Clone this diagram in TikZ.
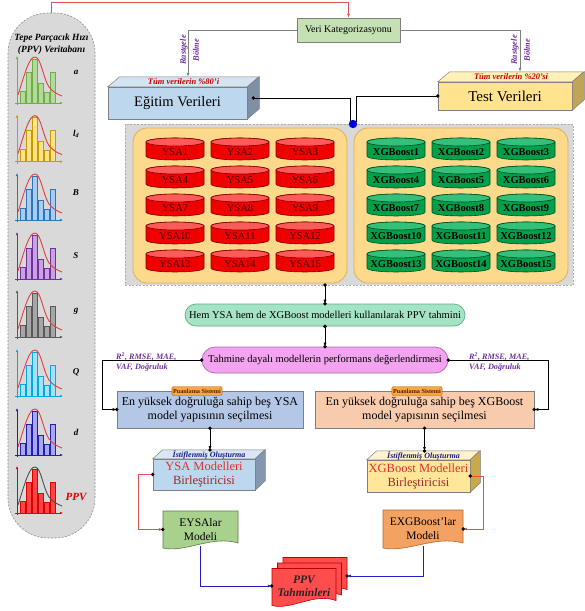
\documentclass[tikz,border=0pt]{standalone}
\usepackage{fontspec}
\setmainfont{Liberation Serif}
\usetikzlibrary{arrows.meta,calc}

\definecolor{panelgray}{HTML}{D9D9D9}
\definecolor{paneledge}{HTML}{8C8C8C}
\definecolor{edgegray}{HTML}{7F7F7F}
\definecolor{conred}{HTML}{E05050}
\definecolor{conblue}{HTML}{2020C0}
\definecolor{purp}{HTML}{7030A0}
\definecolor{tumred}{HTML}{D00000}
\definecolor{egfront}{HTML}{BDD7EE}
\definecolor{egtop}{HTML}{D5E4F3}
\definecolor{egside}{HTML}{7F8FA6}
\definecolor{tsfront}{HTML}{FFE38F}
\definecolor{tstop}{HTML}{FFF0B8}
\definecolor{tsside}{HTML}{BFA555}
\definecolor{verifill}{HTML}{C5E0B4}
\definecolor{contfill}{HTML}{FDD98C}
\definecolor{contedge}{HTML}{D9B15A}
\definecolor{ysabody}{HTML}{F00000}
\definecolor{ysatop}{HTML}{FF5A5A}
\definecolor{ysaedge}{HTML}{800000}
\definecolor{ysatext}{HTML}{4A0000}
\definecolor{xgbbody}{HTML}{00A04A}
\definecolor{xgbtop}{HTML}{33C07A}
\definecolor{xgbedge}{HTML}{004D24}
\definecolor{hemfill}{HTML}{A4E4C4}
\definecolor{hemedge}{HTML}{5FAE86}
\definecolor{pinkfill}{HTML}{F3A3F0}
\definecolor{pinkedge}{HTML}{B266B2}
\definecolor{ysasel}{HTML}{B4C7E7}
\definecolor{xgbsel}{HTML}{F8CBAD}
\definecolor{tagfill}{HTML}{F4A742}
\definecolor{tagedge}{HTML}{C06000}
\definecolor{tagtext}{HTML}{5A2000}
\definecolor{cbblue}{HTML}{BDD7EE}
\definecolor{cbbluetop}{HTML}{D9E6F4}
\definecolor{cbblueside}{HTML}{8496B0}
\definecolor{cbyel}{HTML}{FFE699}
\definecolor{cbyeltop}{HTML}{FFF2CC}
\definecolor{cbyelside}{HTML}{C9A94A}
\definecolor{stackblue}{HTML}{1A1A8C}
\definecolor{modred}{HTML}{E03030}
\definecolor{modredd}{HTML}{A02828}
\definecolor{eysafill}{HTML}{A9D18E}
\definecolor{eysaedge}{HTML}{5E7F46}
\definecolor{exgbfill}{HTML}{F4A261}
\definecolor{exgbedge}{HTML}{B8692A}
\definecolor{ppvfill}{HTML}{FF4D4D}
\definecolor{ppvedge}{HTML}{C00000}
\definecolor{hAf}{HTML}{B5D99C}\definecolor{hAe}{HTML}{70AD47}
\definecolor{hLf}{HTML}{FFE28A}\definecolor{hLe}{HTML}{C99A00}
\definecolor{hBf}{HTML}{A9CBEE}\definecolor{hBe}{HTML}{2E75B6}
\definecolor{hSf}{HTML}{C9A3E0}\definecolor{hSe}{HTML}{7030A0}
\definecolor{hGf}{HTML}{A6A6A6}\definecolor{hGe}{HTML}{595959}
\definecolor{hQf}{HTML}{A3E2F8}\definecolor{hQe}{HTML}{00A8E8}
\definecolor{hDf}{HTML}{A8A8F0}\definecolor{hDe}{HTML}{2020B0}
\definecolor{hPf}{HTML}{FF4545}\definecolor{hPe}{HTML}{E00000}
\definecolor{hcurve}{HTML}{E04040}
\definecolor{hcurvep}{HTML}{505050}

\newcommand\fsz[2]{\fontsize{#1}{#2}\selectfont}

% histogram: #1 baseline y, #2 fill, #3 edge/axis, #4 curve colour
\newcommand\myhist[4]{%
\begin{scope}[shift={(0,#1)}]
 \foreach \i/\h in {0/12,1/31,2/44,3/20,4/11,5/31}{
   \filldraw[fill=#2, draw=#3, line width=0.5pt] ({20+6*\i},0) rectangle ({25.5+6*\i},-\h);
 }
 \draw[#3, line width=0.9pt, -{Latex[length=3pt,width=2.6pt]}] (15,0) -- (63,0);
 \draw[#3, line width=0.9pt, -{Latex[length=3pt,width=2.6pt]}] (17,2) -- (17,-47);
 \draw[#4, line width=0.9pt] (18,-8) .. controls (25,-30) and (29,-46) .. (35,-46) .. controls (41,-46) and (43,-25) .. (49,-16) .. controls (53,-11) and (57,-9) .. (62,-7);
\end{scope}}

% cylinder: #1 name, #2 centre, #3 text, #4 colour prefix
\newcommand\mycyl[4]{%
\begin{scope}[shift={(#2)}]
 \filldraw[fill=#4body, draw=#4edge, line width=0.6pt] (-29,-7) -- (-29,7) .. controls (-29,12.3) and (29,12.3) .. (29,7) -- (29,-7) .. controls (29,-12.3) and (-29,-12.3) .. cycle;
 \filldraw[fill=#4top, draw=#4edge, line width=0.6pt] (0,-7) ellipse [x radius=29, y radius=4];
 \node[#4txt] (#1) at (0,3) {#3};
\end{scope}}

% document shape: #1 centre, #2 half width, #3 half height, #4 fill, #5 edge
\newcommand\docshape[5]{%
 \filldraw[fill=#4, draw=#5, line width=0.6pt, shift={(#1)}] (-#2,-#3) -- (#2,-#3) -- (#2,#3-5) .. controls ({0.3*#2},#3-13) and ({-0.4*#2},#3+5) .. (-#2,#3) -- cycle;}

\newcommand\mydot[1]{\fill (#1) circle[radius=1.9pt];}

\tikzset{
 conn/.style={line width=0.7pt, -{Latex[length=4pt,width=3pt]}},
 panelborder/.style={draw=paneledge, dash pattern=on 2pt off 1.5pt, line width=0.6pt},
 ttl/.style={inner sep=0pt, align=center, font=\fsz{9.5}{12}\bfseries\itshape},
 hlab/.style={inner sep=0pt, font=\fsz{9}{10}\bfseries\itshape},
 front3d/.style={draw=edgegray, line width=0.5pt, inner sep=0pt},
 toptxt/.style={inner sep=0pt, font=\fsz{8.5}{9}\bfseries\itshape, text=tumred},
 rastg/.style={inner sep=0pt, rotate=90, align=center, font=\fsz{8.5}{13}\bfseries\itshape, text=purp},
 ysatxt/.style={inner sep=0pt, font=\fsz{10.5}{12}, text=ysatext},
 xgbtxt/.style={inner sep=0pt, font=\fsz{10.5}{12}\bfseries, text=black},
 metric/.style={inner sep=0pt, align=left, font=\fsz{8.2}{10.5}\bfseries\itshape, text=purp},
 selbox/.style={draw=edgegray, line width=0.6pt, inner sep=0pt, align=center, font=\fsz{12}{14}},
 tagbox/.style={draw=tagedge, fill=tagfill, rounded corners=2pt, inner sep=1.3pt, minimum height=9pt, font=\fsz{6.2}{7}\bfseries, text=tagtext},
 stacktxt/.style={inner sep=0pt, font=\fsz{8}{9}\bfseries\itshape, text=stackblue},
 docnode/.style={inner sep=0pt, align=center, font=\fsz{11.5}{14}},
}

\begin{document}
\begin{tikzpicture}[x=1pt,y=-1pt]
\useasboundingbox (0,0) rectangle (585,611);
\fill[white] (0,0) rectangle (585,611);

% ---------- left database panel ----------
\draw[panelborder, fill=panelgray, rounded corners=40pt] (8,13) rectangle (95,538);
\coordinate (ptop) at (51.5,13);
\node[ttl] (ttl) at (51.5,44) {Tepe Parçacık Hızı\\(PPV) Veritabanı};
\myhist{103}{hAf}{hAe}{hcurve}
\myhist{161.6}{hLf}{hLe}{hcurve}
\myhist{220}{hBf}{hBe}{hcurve}
\myhist{279}{hSf}{hSe}{hcurve}
\myhist{337}{hGf}{hGe}{hcurve}
\myhist{396}{hQf}{hQe}{hcurve}
\myhist{455}{hDf}{hDe}{hcurve}
\myhist{513}{hPf}{hPe}{hcurvep}
\node[hlab] (la) at (76,72) {a};
\node[hlab] (lld) at (76,134) {l\textsubscript{d}};
\node[hlab] (lB) at (76,193) {B};
\node[hlab] (lS) at (76,256) {S};
\node[hlab] (lg) at (76,311) {g};
\node[hlab] (lQ) at (76,372) {Q};
\node[hlab] (ld) at (76,432) {d};
\node[hlab, font=\fsz{11}{12}\bfseries\itshape, text=hPe] (lP) at (76,497) {PPV};

% ---------- top ----------
\node[draw=edgegray, fill=verifill, line width=0.6pt, minimum width=103pt, minimum height=24pt, inner sep=0pt, font=\fsz{10}{12}] (veri) at (348.5,30) {Veri Kategorizasyonu};
\draw[conred, conn, line width=0.6pt] (ptop) -- ++(0,-11) -| (veri.north);

% Egitim 3D box
\node[front3d, fill=egfront, minimum width=139pt, minimum height=32pt, font=\fsz{14.5}{16}] (egitim) at (177.5,103) {Eğitim Verileri};
\filldraw[fill=egtop, draw=edgegray, line width=0.5pt] (egitim.north west) -- ++(12,-10) -- ++(139,0) -- (egitim.north east) -- cycle;
\filldraw[fill=egside, draw=edgegray, line width=0.5pt] (egitim.north east) -- ++(12,-10) -- ++(0,32) -- (egitim.south east) -- cycle;
\node[toptxt] (egtt) at (183.5,82) {Tüm verilerin \%80'i};

% Test 3D box
\node[front3d, fill=tsfront, minimum width=134pt, minimum height=28pt, font=\fsz{15}{16}] (test) at (505,96) {Test Verileri};
\filldraw[fill=tstop, draw=edgegray, line width=0.5pt] (test.north west) -- ++(12,-10) -- ++(134,0) -- (test.north east) -- cycle;
\filldraw[fill=tsside, draw=edgegray, line width=0.5pt] (test.north east) -- ++(12,-10) -- ++(0,28) -- (test.south east) -- cycle;
\node[toptxt] (tstt) at (511,77) {Tüm verilerin \%20'si};

\coordinate (egtopc) at ($(egitim.north)+(10.5,-10)$);
\coordinate (tstopc) at ($(test.north)+(15,-10)$);
\draw[edgegray, conn] (veri.west) -| (egtopc);
\draw[edgegray, conn] (veri.east) -| (tstopc);
\node[rastg] (rs1) at (189.5,50) {Rastgele\\Bölme};
\node[rastg] (rs2) at (520.5,50) {Rastgele\\Bölme};

% ---------- model panel ----------
\draw[panelborder, fill=panelgray, draw=paneledge!70] (125,124) rectangle (573,285);
\draw[fill=contfill, draw=contedge, line width=0.8pt, rounded corners=14pt] (133,128) rectangle (347,283);
\draw[fill=contfill, draw=contedge, line width=0.8pt, rounded corners=14pt] (354,128) rectangle (568,283);
\foreach \row in {0,...,4}{
 \foreach \col in {0,1,2}{
  \pgfmathtruncatemacro\cnum{3*\row+\col+1}
  \mycyl{ysa\cnum}{175+65*\col,149+28*\row}{YSA\cnum}{ysa}
  \mycyl{xgb\cnum}{396+65*\col,149+28*\row}{XGBoost\cnum}{xgb}
 }
}

% merge into panel
\coordinate (egdot) at ($(egitim.east)+(6,-5)$);
\coordinate (mergeL) at (350,122);
\coordinate (mergeR) at (356,122);
\coordinate (merge) at (353,124);
\draw[line width=0.8pt] (egdot) -| (mergeL);
\draw[line width=0.8pt] (test.west) -| (mergeR);
\mydot{egdot}
\mydot{test.west}
\fill[blue!85!black] (merge) circle[radius=4.2pt];

% ---------- middle flow ----------
\node[draw=hemedge, fill=hemfill, line width=0.7pt, rounded corners=11pt, minimum width=280pt, minimum height=22pt, inner sep=0pt, font=\fsz{10.5}{12}] (hem) at (325,315) {Hem YSA hem de XGBoost modelleri kullanılarak PPV tahmini};
\node[draw=pinkedge, fill=pinkfill, line width=0.7pt, rounded corners=13pt, minimum width=246pt, minimum height=26pt, inner sep=0pt, font=\fsz{10.5}{12}] (pink) at (325,360) {Tahmine dayalı modellerin performans değerlendirmesi};
\coordinate (pbot) at (325,285);
\draw[conn] (pbot) -- (hem.north);
\draw[conn] (hem.south) -- (pink.north);
\mydot{pbot}\mydot{hem.north}\mydot{hem.south}\mydot{pink.north}

\node[selbox, fill=ysasel, minimum width=186pt, minimum height=37pt] (ysasel) at (210,409.5) {En yüksek doğruluğa sahip beş YSA\\model yapısının seçilmesi};
\node[selbox, fill=xgbsel, minimum width=219pt, minimum height=37pt] (xgbsel) at (424.5,409.5) {En yüksek doğruluğa sahip beş XGBoost\\model yapısının seçilmesi};
\node[tagbox] (tag1) at (197,391) {Puanlama Sistemi};
\node[tagbox] (tag2) at (417,391) {Puanlama Sistemi};

\draw[conn] (pink.west) -| ($(ysasel.west)+(-14,0)$) -- (ysasel.west);
\draw[conn] (pink.east) -| ($(xgbsel.east)+(14,0)$) -- (xgbsel.east);
\mydot{pink.west}\mydot{pink.east}\mydot{ysasel.west}\mydot{xgbsel.east}
\node[metric, anchor=west] (met1) at (116,362) {R\textsuperscript{2}, RMSE, MAE,\\VAF, Doğruluk};
\node[metric, anchor=west] (met2) at (469,362) {R\textsuperscript{2}, RMSE, MAE,\\VAF, Doğruluk};

% ---------- combiners ----------
\node[front3d, fill=cbblue, minimum width=102pt, minimum height=31pt, align=center, font=\fsz{12.5}{14}] (ysacb) at (204,474.5) {{\color{modred}YSA Modelleri}\\{\color{modredd}Birleştiricisi}};
\filldraw[fill=cbbluetop, draw=edgegray, line width=0.5pt] (ysacb.north west) -- ++(10,-9) -- ++(102,0) -- (ysacb.north east) -- cycle;
\filldraw[fill=cbblueside, draw=edgegray, line width=0.5pt] (ysacb.north east) -- ++(10,-9) -- ++(0,31) -- (ysacb.south east) -- cycle;
\node[stacktxt] (st1) at (209,454.5) {İstiflenmiş Oluşturma};

\node[front3d, fill=cbyel, minimum width=103pt, minimum height=32pt, align=center, font=\fsz{12.5}{14}] (xgbcb) at (418.5,476) {{\color{modred}XGBoost Modelleri}\\{\color{modredd}Birleştiricisi}};
\filldraw[fill=cbyeltop, draw=edgegray, line width=0.5pt] (xgbcb.north west) -- ++(10,-9) -- ++(103,0) -- (xgbcb.north east) -- cycle;
\filldraw[fill=cbyelside, draw=edgegray, line width=0.5pt] (xgbcb.north east) -- ++(10,-9) -- ++(0,32) -- (xgbcb.south east) -- cycle;
\node[stacktxt] (st2) at (423.5,455.5) {İstiflenmiş Oluşturma};

\coordinate (ysacbt) at (210,450);
\coordinate (xgbcbt) at (424.5,451);
\draw[conn] (ysasel.south) -- (ysacbt);
\draw[conn] (xgbsel.south) -- (xgbcbt);
\mydot{ysasel.south}\mydot{ysacbt}\mydot{xgbsel.south}\mydot{xgbcbt}

% ---------- ensemble documents ----------
\docshape{200.5,529.5}{37.5}{18.5}{eysafill}{eysaedge}
\node[docnode, minimum width=75pt, minimum height=37pt] (eysa) at (200.5,529.5) {EYSAlar\\Modeli};
\docshape{423,529}{40}{19}{exgbfill}{exgbedge}
\node[docnode, minimum width=80pt, minimum height=38pt] (exgb) at (423,529) {EXGBoost'lar\\Modeli};

\draw[conred, conn] (ysacb.west) -| ($(eysa.west)+(-24,0)$) -- (eysa.west);
\draw[conred, conn] (xgbcb.east) -| ($(exgb.east)+(20,0)$) -- (exgb.east);
\mydot{ysacb.west}\mydot{eysa.west}\mydot{xgbcb.east}\mydot{exgb.east}

% ---------- PPV predictions ----------
\docshape{315,576}{32}{18.5}{ppvfill}{ppvedge}
\docshape{309.5,581.5}{32}{18.5}{ppvfill}{ppvedge}
\docshape{304,587}{32}{18.5}{ppvfill}{ppvedge}
\node[docnode, minimum width=64pt, minimum height=37pt, font=\fsz{11.5}{13}\bfseries\itshape, text=black!85] (ppv) at (304,586) {PPV\\Tahminleri};
\coordinate (ppvback) at (347,576);

\draw[conblue, conn] ($(eysa.south)+(0,-2)$) |- (ppv.west);
\draw[conblue, conn] ($(exgb.south)+(0,-2)$) |- (ppvback);
\mydot{ppv.west}\mydot{ppvback}
\end{tikzpicture}
\end{document}
